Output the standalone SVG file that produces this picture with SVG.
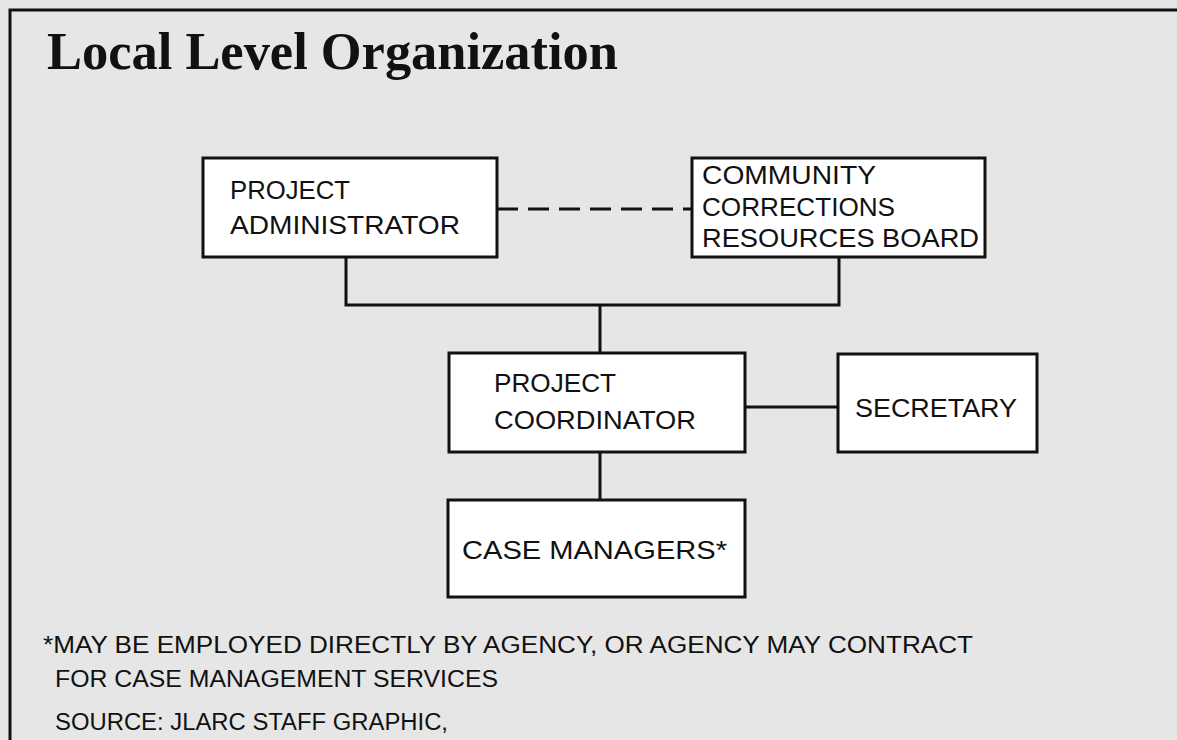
<svg xmlns="http://www.w3.org/2000/svg" width="1177" height="740" viewBox="0 0 1177 740">
<style>
.box{fill:#ffffff;stroke:#111;stroke-width:3}
.lbl{font-family:"Liberation Sans",Arial,sans-serif;font-size:25px;fill:#111}
.note{font-family:"Liberation Sans",Arial,sans-serif;font-size:23px;fill:#111}
.ln{fill:none;stroke:#111;stroke-width:3}
.dash{fill:none;stroke:#111;stroke-width:3;stroke-dasharray:21 10}
</style>
<rect x="0" y="0" width="1177" height="740" fill="#e6e6e6"/>
<g id="frame">
<path class="ln" d="M10,740 V10 H1177"/>
</g>
<g id="title">
<text x="47" y="69" font-family="'Liberation Serif','Times New Roman',serif" font-weight="bold" font-size="52" fill="#111" textLength="571" lengthAdjust="spacingAndGlyphs">Local Level Organization</text>
</g>
<g id="connectors">
<path class="dash" d="M497,209 H692"/>
<path class="ln" d="M346,257 V305 H839 V257"/>
<path class="ln" d="M600,305 V353"/>
<path class="ln" d="M745,407 H838"/>
<path class="ln" d="M600,452 V500"/>
</g>
<g id="project-administrator">
<rect class="box" x="203" y="158" width="294" height="99"/>
<text class="lbl" x="230" y="199" textLength="120" lengthAdjust="spacingAndGlyphs">PROJECT</text>
<text class="lbl" x="230" y="234" textLength="230" lengthAdjust="spacingAndGlyphs">ADMINISTRATOR</text>
</g>
<g id="community-board">
<rect class="box" x="692" y="158" width="293" height="99"/>
<text class="lbl" x="702" y="184" textLength="174" lengthAdjust="spacingAndGlyphs">COMMUNITY</text>
<text class="lbl" x="702" y="216" textLength="193" lengthAdjust="spacingAndGlyphs">CORRECTIONS</text>
<text class="lbl" x="702" y="247" textLength="277" lengthAdjust="spacingAndGlyphs">RESOURCES BOARD</text>
</g>
<g id="project-coordinator">
<rect class="box" x="449" y="353" width="296" height="99"/>
<text class="lbl" x="494" y="392" textLength="122" lengthAdjust="spacingAndGlyphs">PROJECT</text>
<text class="lbl" x="494" y="429" textLength="202" lengthAdjust="spacingAndGlyphs">COORDINATOR</text>
</g>
<g id="secretary">
<rect class="box" x="838" y="354" width="199" height="98"/>
<text class="lbl" x="855" y="417" textLength="162" lengthAdjust="spacingAndGlyphs">SECRETARY</text>
</g>
<g id="case-managers">
<rect class="box" x="448" y="500" width="297" height="97"/>
<text class="lbl" x="462" y="559" textLength="265" lengthAdjust="spacingAndGlyphs">CASE MANAGERS*</text>
</g>
<g id="notes">
<text class="note" x="43" y="653" textLength="930" lengthAdjust="spacingAndGlyphs">*MAY BE EMPLOYED DIRECTLY BY AGENCY, OR AGENCY MAY CONTRACT</text>
<text class="note" x="55" y="687" textLength="443" lengthAdjust="spacingAndGlyphs">FOR CASE MANAGEMENT SERVICES</text>
<text class="note" x="55" y="730" textLength="393" lengthAdjust="spacingAndGlyphs">SOURCE: JLARC STAFF GRAPHIC,</text>
</g>
</svg>
